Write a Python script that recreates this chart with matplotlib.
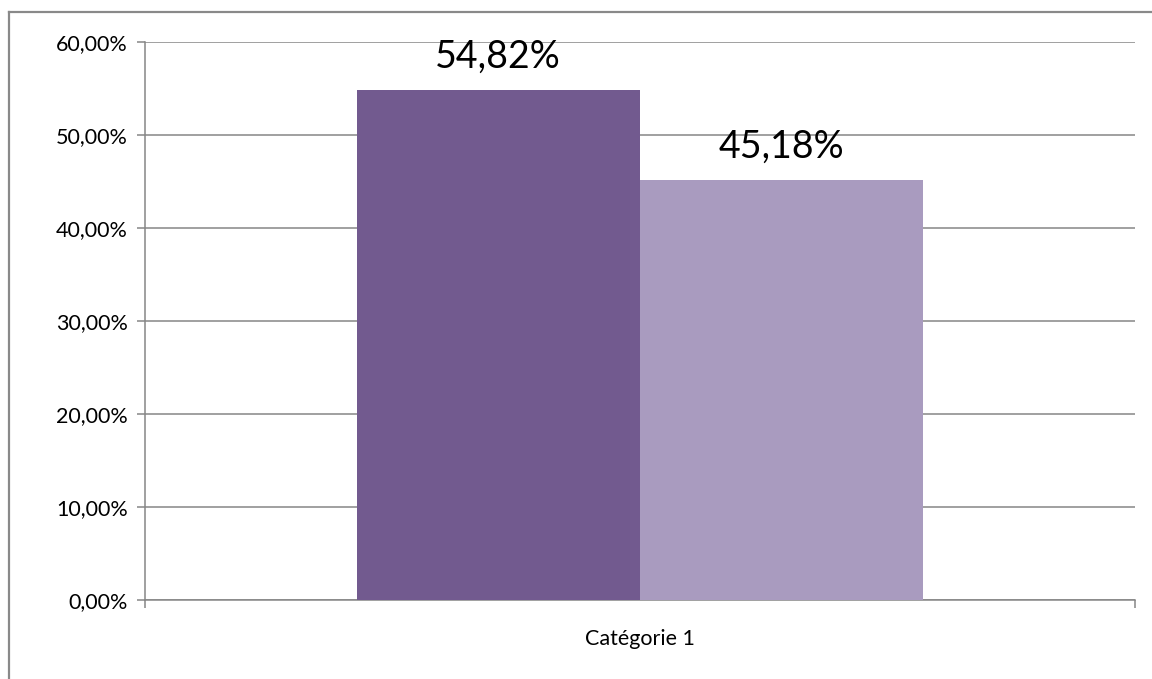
import matplotlib.pyplot as plt
from matplotlib.lines import Line2D

category = "Catégorie 1"
series_values = [54.82, 45.18]
series_colors = ["#725A8F", "#A99BBF"]
y_ticks = [0, 10, 20, 30, 40, 50, 60]

plt.rcParams['font.family'] = ['Lato', 'DejaVu Sans']

fig = plt.figure(figsize=(11.52, 6.79), dpi=100)
ax = fig.add_axes([0.1255, 0.1163, 0.8597, 0.8218])

grid_col = "#868686"
width = 0.286
offsets = [-width / 2, width / 2]
for off, val, col in zip(offsets, series_values, series_colors):
    ax.bar(off, val, width=width, color=col, zorder=3)
    label = f"{val:.2f}%".replace(".", ",")
    ax.annotate(label, (off, val), xytext=(0, 11), textcoords="offset points",
                ha="center", va="bottom", fontsize=27, zorder=4)

ax.set_xlim(-0.5, 0.5)
ax.set_ylim(0, 60)
ax.set_yticks(y_ticks)
ax.set_yticklabels([f"{t:.2f}%".replace(".", ",") for t in y_ticks], fontsize=15.5)
ax.yaxis.grid(True, color=grid_col, linewidth=1.1, zorder=0)

# category boundaries carry the ticks, the label sits in the middle
ax.set_xticks([-0.5, 0.5])
ax.set_xticklabels([])
ax.set_xticks([0], minor=True)
ax.set_xticklabels([category], minor=True, fontsize=15.5)
ax.tick_params(axis="x", which="minor", length=0, pad=21)
ax.tick_params(axis="x", which="major", length=6, width=1.1, color=grid_col)
ax.tick_params(axis="y", length=6, width=1.1, color=grid_col, pad=6)

for side in ["top", "right"]:
    ax.spines[side].set_visible(False)
for side in ["left", "bottom"]:
    ax.spines[side].set_color(grid_col)
    ax.spines[side].set_linewidth(1.1)

# outer chart frame
fig.add_artist(Line2D([9 / 1152, 9 / 1152], [0, 1 - 12 / 679],
                      transform=fig.transFigure, color="#898989", lw=1.6))
fig.add_artist(Line2D([9 / 1152, 1], [1 - 12 / 679, 1 - 12 / 679],
                      transform=fig.transFigure, color="#898989", lw=1.6))

fig.savefig("out.png", dpi=100)
